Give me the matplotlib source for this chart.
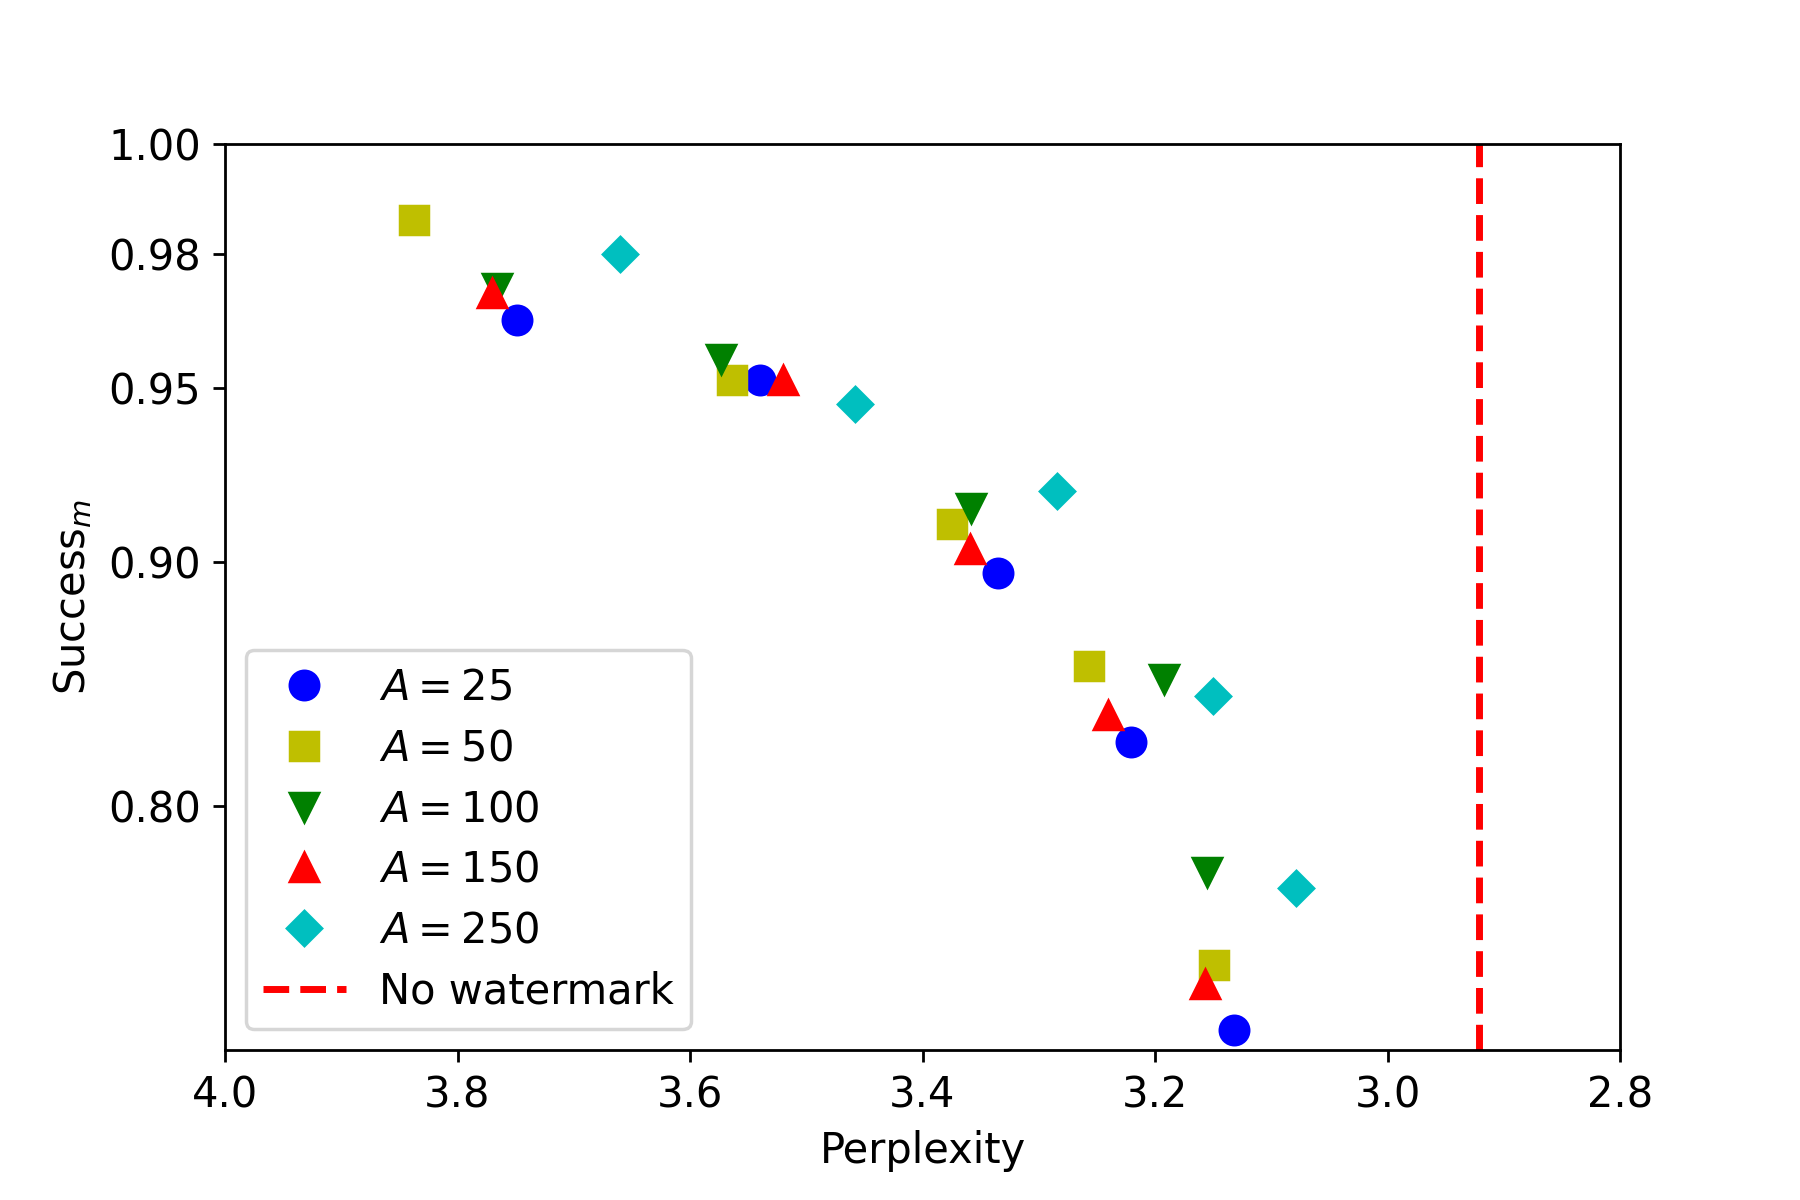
import numpy as np
import matplotlib
matplotlib.use("Agg")
import matplotlib.pyplot as plt

labels = [r"$A = 25$", r"$A = 50$", r"$A = 100$", r"$A = 150$", r"$A = 250$"]
ppl_25 = [3.749, 3.540, 3.335, 3.221, 3.132]
suc_25 = [0.966, 0.952, 0.896, 0.830, 0.665]
ppl_50 = [3.837, 3.564, 3.375, 3.257, 3.149]
suc_50 = [0.9865, 0.952, 0.912, 0.862, 0.709]
ppl_100 = [3.766, 3.573, 3.358, 3.192, 3.155]
suc_100 = [0.973, 0.957, 0.917, 0.857, 0.765]
ppl_150 = [3.770, 3.520, 3.359, 3.240, 3.157]
suc_150 = [0.972, 0.952, 0.904, 0.842, 0.697]
ppl_250 = [3.660, 3.458, 3.284, 3.150, 3.079]
suc_250 = [0.980, 0.946, 0.922, 0.850, 0.756]
no_watermark_ppl = 2.921
yticks = [0.80, 0.90, 0.95, 0.98, 1.00]
xticks = [4.0, 3.8, 3.6, 3.4, 3.2, 3.0, 2.8]

plt.rcParams['font.size'] = 12

fig, ax = plt.subplots(figsize=(7.2, 4.8), dpi=250)
fig.subplots_adjust(left=0.125, right=0.9, top=0.88, bottom=0.125)

ms = 8.2
series = [(ppl_25, suc_25, 'o', 'b'), (ppl_50, suc_50, 's', 'y'),
          (ppl_100, suc_100, 'v', 'g'), (ppl_150, suc_150, '^', 'r'),
          (ppl_250, suc_250, 'D', 'c')]
for (xs, ys, m, c), lab in zip(series, labels):
    ax.plot(xs, ys, linestyle='none', marker=m, color=c,
            markersize=ms if m != 'D' else ms * 0.85, label=lab)

ax.axvline(no_watermark_ppl, color='r', linestyle='--', linewidth=2, label='No watermark')

def fwd(y):
    return -np.log(np.clip(1.1 - y, 1e-9, None))

def inv(z):
    return 1.1 - np.exp(-z)

ax.set_yscale('function', functions=(fwd, inv))
ax.set_ylim(0.65, 1.0)
ax.set_yticks(yticks)
ax.set_yticklabels([f"{t:.2f}" for t in yticks])
ax.yaxis.set_minor_locator(matplotlib.ticker.NullLocator())
ax.set_xlim(4.0, 2.8)
ax.set_xticks(xticks)
ax.set_xticklabels([f"{t:.1f}" for t in xticks])

ax.set_xlabel('Perplexity')
ax.set_ylabel(r'Success$_m$')
ax.legend(loc='lower left', fontsize=12, labelspacing=0.45)

fig.savefig('out.png', dpi=250)
